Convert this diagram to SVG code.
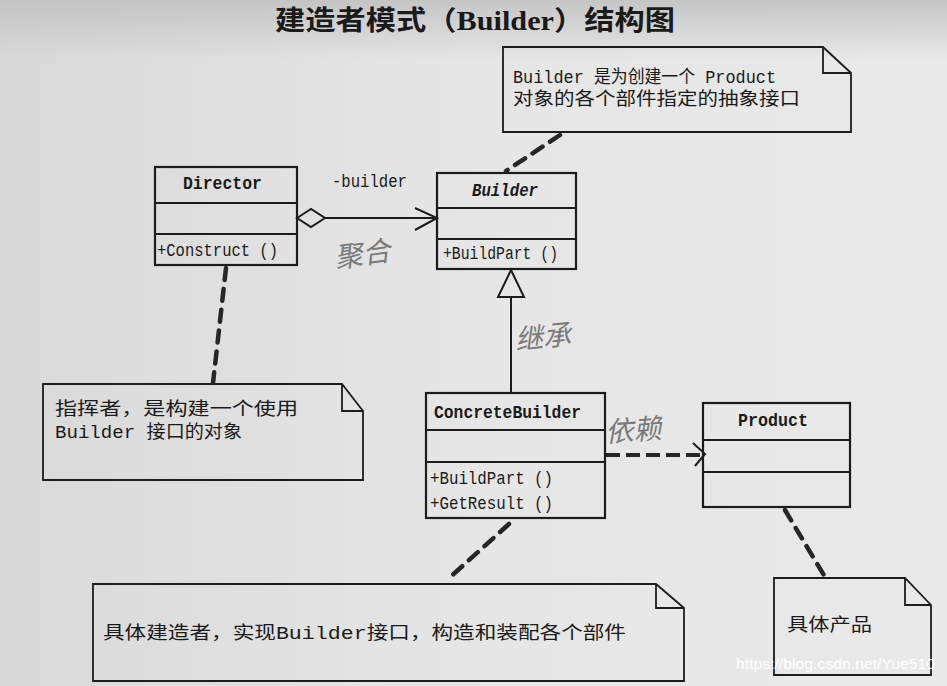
<svg xmlns="http://www.w3.org/2000/svg" width="947" height="686" viewBox="0 0 947 686">
<defs>
<linearGradient id="bg" x1="0" y1="0" x2="1" y2="0">
<stop offset="0" stop-color="#d9d9d9"/>
<stop offset="0.5" stop-color="#e6e6e6"/>
<stop offset="1" stop-color="#e9e9e9"/>
</linearGradient>
<linearGradient id="top" x1="0" y1="0" x2="0" y2="1">
<stop offset="0" stop-color="#bdbdbd" stop-opacity="0.8"/>
<stop offset="1" stop-color="#bdbdbd" stop-opacity="0"/>
</linearGradient>
<style>
.box{fill:none;stroke:#1c1c1c;stroke-width:2.2}
.note{fill:none;stroke:#1c1c1c;stroke-width:1.8}
.cls{font-family:"Liberation Mono","Noto Sans CJK SC",monospace;font-size:18px;fill:#1a1a1a}
.b{font-weight:bold}
.nt{font-family:"Liberation Mono","Noto Sans CJK SC",monospace;font-size:18px;fill:#1a1a1a}
.hand{font-family:"Noto Sans CJK SC",sans-serif;font-size:28px;fill:#7a7a7a;font-style:italic}
.ndash{fill:none;stroke:#262626;stroke-width:4.5;stroke-dasharray:12 9;stroke-linecap:round}
.line{fill:none;stroke:#1c1c1c;stroke-width:2}
</style>
</defs>
<rect x="0" y="0" width="947" height="686" fill="url(#bg)"/>
<rect x="0" y="0" width="947" height="60" fill="url(#top)"/>

<text x="275" y="30" font-family="'Liberation Serif','Noto Sans CJK SC',serif" font-weight="bold" font-size="27" fill="#1a1a1a" textLength="400" lengthAdjust="spacingAndGlyphs">建造者模式（Builder）结构图</text>

<g id="director">
<rect class="box" x="155" y="167" width="142" height="98"/>
<line class="box" x1="155" y1="203" x2="297" y2="203"/>
<line class="box" x1="155" y1="234" x2="297" y2="234"/>
<text class="cls b" x="183" y="189" textLength="79" lengthAdjust="spacingAndGlyphs">Director</text>
<text class="cls" x="157" y="256" textLength="121" lengthAdjust="spacingAndGlyphs">+Construct ()</text>
</g>

<g id="builder">
<rect class="box" x="437" y="173" width="139" height="96"/>
<line class="box" x1="437" y1="208" x2="576" y2="208"/>
<line class="box" x1="437" y1="239" x2="576" y2="239"/>
<text class="cls b" x="472" y="196" font-style="italic" textLength="66" lengthAdjust="spacingAndGlyphs">Builder</text>
<text class="cls" x="443" y="259" textLength="115" lengthAdjust="spacingAndGlyphs">+BuildPart ()</text>
</g>

<g id="concretebuilder">
<rect class="box" x="426" y="393" width="179" height="125"/>
<line class="box" x1="426" y1="430" x2="605" y2="430"/>
<line class="box" x1="426" y1="462" x2="605" y2="462"/>
<text class="cls b" x="434" y="418" textLength="147" lengthAdjust="spacingAndGlyphs">ConcreteBuilder</text>
<text class="cls" x="430" y="484" textLength="123" lengthAdjust="spacingAndGlyphs">+BuildPart ()</text>
<text class="cls" x="430" y="509" textLength="123" lengthAdjust="spacingAndGlyphs">+GetResult ()</text>
</g>

<g id="product">
<rect class="box" x="703" y="403" width="147" height="104"/>
<line class="box" x1="703" y1="440" x2="850" y2="440"/>
<line class="box" x1="703" y1="472" x2="850" y2="472"/>
<text class="cls b" x="738" y="426" textLength="70" lengthAdjust="spacingAndGlyphs">Product</text>
</g>

<g id="note-builder">
<path class="note" d="M503,47 H823 L851,73 V132 H503 Z M823,47 V73 H851"/>
<text class="nt" x="513" y="83" textLength="263" lengthAdjust="spacingAndGlyphs">Builder 是为创建一个 Product</text>
<text class="nt" x="513" y="105" textLength="287" lengthAdjust="spacingAndGlyphs">对象的各个部件指定的抽象接口</text>
</g>

<g id="note-director">
<path class="note" d="M43,384 H342 L363,411 V480 H43 Z M342,384 V411 H363"/>
<text class="nt" x="55" y="415" textLength="243" lengthAdjust="spacingAndGlyphs">指挥者，是构建一个使用</text>
<text class="nt" x="55" y="438" textLength="187" lengthAdjust="spacingAndGlyphs">Builder 接口的对象</text>
</g>

<g id="note-concrete">
<path class="note" d="M93,584 H656 L684,608 V681 H93 Z M656,584 V608 H684"/>
<text class="nt" x="103" y="639" textLength="523" lengthAdjust="spacingAndGlyphs">具体建造者，实现Builder接口，构造和装配各个部件</text>
</g>

<g id="note-product">
<path class="note" d="M774,578 H905 L931,605 V675 H774 Z M905,578 V605 H931"/>
<text class="nt" x="787" y="631" font-size="20" textLength="85" lengthAdjust="spacingAndGlyphs">具体产品</text>
</g>

<g id="connectors">
<path d="M297,218 L311,209 L325,218 L311,227 Z" fill="none" stroke="#1c1c1c" stroke-width="2"/>
<line class="line" x1="325" y1="218" x2="436" y2="218"/>
<path class="line" d="M415,208 L437,218 L415,230"/>
<text class="cls" x="332" y="187" textLength="75" lengthAdjust="spacingAndGlyphs">-builder</text>
<path d="M511,270 L524,297 L498,297 Z" fill="none" stroke="#1c1c1c" stroke-width="2"/>
<line class="line" x1="511" y1="297" x2="511" y2="393"/>
<line x1="606" y1="455" x2="700" y2="455" stroke="#262626" stroke-width="4" stroke-dasharray="14 6"/>
<path class="line" d="M693,443 L705,454 L695,466"/>
<line class="ndash" x1="560" y1="135" x2="506" y2="171"/>
<line class="ndash" x1="226" y1="268" x2="213" y2="383"/>
<line class="ndash" x1="509" y1="524" x2="447" y2="580"/>
<line class="ndash" x1="785" y1="510" x2="825" y2="577"/>
</g>

<text class="hand" x="336" y="268" transform="rotate(-8 336 268)">聚合</text>
<text class="hand" x="516" y="350" transform="rotate(-6 516 350)">继承</text>
<text class="hand" x="606" y="442" transform="rotate(-4 606 442)">依赖</text>

<text x="736" y="669" font-family="'Liberation Sans',Arial,sans-serif" font-size="14" fill="#ffffff" textLength="199" lengthAdjust="spacingAndGlyphs">https://blog.csdn.net/Yue510</text>
</svg>
